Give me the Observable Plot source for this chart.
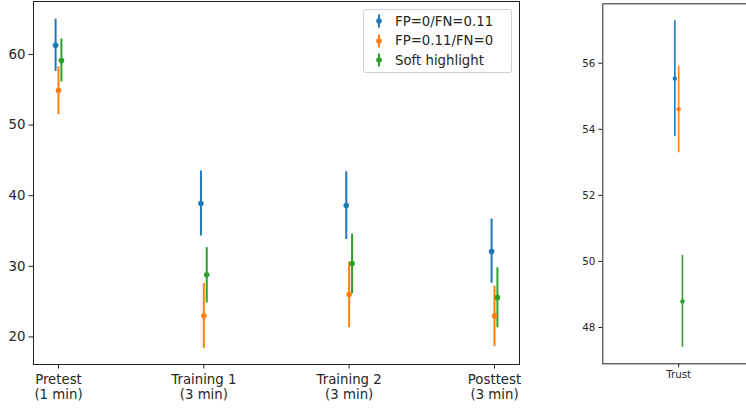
<!DOCTYPE html>
<html><head><meta charset="utf-8">
<script src="https://cdn.jsdelivr.net/npm/d3@7"></script>
<script src="https://cdn.jsdelivr.net/npm/@observablehq/plot@0.6"></script>
<style>
html,body{margin:0;padding:0;background:#fff;overflow:hidden;width:746px;height:408px;position:relative;}
#left{position:absolute;left:0;top:0;width:525px;height:408px;}
#right{position:absolute;left:560px;top:0;width:195px;height:408px;}
#left svg,#right svg{max-width:none !important;display:block;}
#legend{position:absolute;left:363px;top:9px;width:147px;height:62px;border:1px solid #d0d0d0;border-radius:3px;background:rgba(255,255,255,0.8);font-family:"DejaVu Sans";font-size:13.3px;color:#262626;}
.row{position:absolute;left:0;height:20px;display:flex;align-items:center;}
.row svg{margin-left:11px;margin-right:12px;}
</style></head><body>
<div id="left"></div><div id="right"></div><div id="legend"></div>
<script>
// ---- data ----
const categories = ["Pretest\n(1 min)", "Training 1\n(3 min)", "Training 2\n(3 min)", "Posttest\n(3 min)"];
const series = ["FP=0/FN=0.11", "FP=0.11/FN=0", "Soft highlight"];
const colors = ["#1f77b4", "#ff7f0e", "#2ca02c"];

const fp0Mean  = [61.3, 38.9, 38.6, 32.1];
const fp0Low   = [57.6, 34.3, 33.8, 27.6];
const fp0High  = [65.0, 43.5, 43.4, 36.7];
const fn0Mean  = [54.9, 23.0, 26.0, 23.0];
const fn0Low   = [51.5, 18.4, 21.3, 18.65];
const fn0High  = [58.25, 27.55, 30.6, 27.2];
const softMean = [59.15, 28.8, 30.4, 25.6];
const softLow  = [56.1, 24.8, 26.1, 21.3];
const softHigh = [62.2, 32.65, 34.55, 29.8];
const leftYTicks = [20, 30, 40, 50, 60];

const trustCategory = "Trust";
const trustMean = [55.54, 54.61, 48.79];
const trustLow  = [53.78, 53.29, 47.4];
const trustHigh = [57.29, 55.91, 50.18];
const rightYTicks = [48, 50, 52, 54, 56];

// ---- build tables ----
const offsets = [-0.02, 0, 0.02];
const means = [fp0Mean, fn0Mean, softMean], lows = [fp0Low, fn0Low, softLow], highs = [fp0High, fn0High, softHigh];
const rows = [];
series.forEach((s, k) => categories.forEach((c, i) => rows.push({
  x: i + offsets[k], series: s, mean: means[k][i], low: lows[k][i], high: highs[k][i]
})));
const trustRows = series.map((s, k) => ({x: offsets[k], series: s, mean: trustMean[k], low: trustLow[k], high: trustHigh[k]}));

const left = Plot.plot({
  width: 525, height: 408,
  marginLeft: 33, marginRight: 6, marginTop: 1, marginBottom: 44,
  style: {fontFamily: "DejaVu Sans", fontSize: "13.3px", color: "#262626", background: "transparent", overflow: "visible"},
  x: {type: "linear", domain: [-0.172, 3.172]},
  y: {domain: [16.1, 67.5]},
  color: {domain: series, range: colors},
  marks: [
    Plot.ruleX(rows, {x: "x", y1: "low", y2: "high", stroke: "series", strokeWidth: 2}),
    Plot.dot(rows, {x: "x", y: "mean", fill: "series", r: 2.8}),
    Plot.frame({stroke: "#222", strokeWidth: 1}),
    Plot.axisY({ticks: leftYTicks, tickSize: 4.5, tickPadding: 3.5, label: null, stroke: "#222"}),
    Plot.axisX({ticks: [0, 1, 2, 3], tickFormat: i => categories[i], tickSize: 4.5, tickPadding: 3.8, label: null, lineHeight: 1.15, stroke: "#222"})
  ]
});
document.getElementById("left").appendChild(left);

const right = Plot.plot({
  width: 195, height: 408,
  marginLeft: 42.3, marginRight: 1, marginTop: 3.3, marginBottom: 44.7,
  style: {fontFamily: "DejaVu Sans", fontSize: "10.3px", color: "#262626", background: "transparent", overflow: "visible"},
  x: {type: "linear", domain: [-0.4, 0.4]},
  y: {domain: [46.9, 57.8]},
  color: {domain: series, range: colors},
  marks: [
    Plot.ruleX(trustRows, {x: "x", y1: "low", y2: "high", stroke: "series", strokeWidth: 1.6}),
    Plot.dot(trustRows, {x: "x", y: "mean", fill: "series", r: 2.2}),
    Plot.frame({stroke: "#222", strokeWidth: 1}),
    Plot.axisY({ticks: rightYTicks, tickSize: 4, tickPadding: 3.5, label: null, stroke: "#222"}),
    Plot.axisX({ticks: [0], tickFormat: () => trustCategory, tickSize: 4, tickPadding: 3, label: null, stroke: "#222"})
  ]
});
document.getElementById("right").appendChild(right);

// ---- legend ----
const legend = document.getElementById("legend");
series.forEach((s, k) => {
  const row = document.createElement("div");
  row.className = "row";
  row.style.top = (1 + k * 19.7) + "px";
  row.innerHTML = `<svg width="8" height="16"><line x1="4" x2="4" y1="1.5" y2="14.5" stroke="${colors[k]}" stroke-width="2"/><circle cx="4" cy="8" r="2.8" fill="${colors[k]}"/></svg><span>${s}</span>`;
  legend.appendChild(row);
});
</script>
</body></html>
